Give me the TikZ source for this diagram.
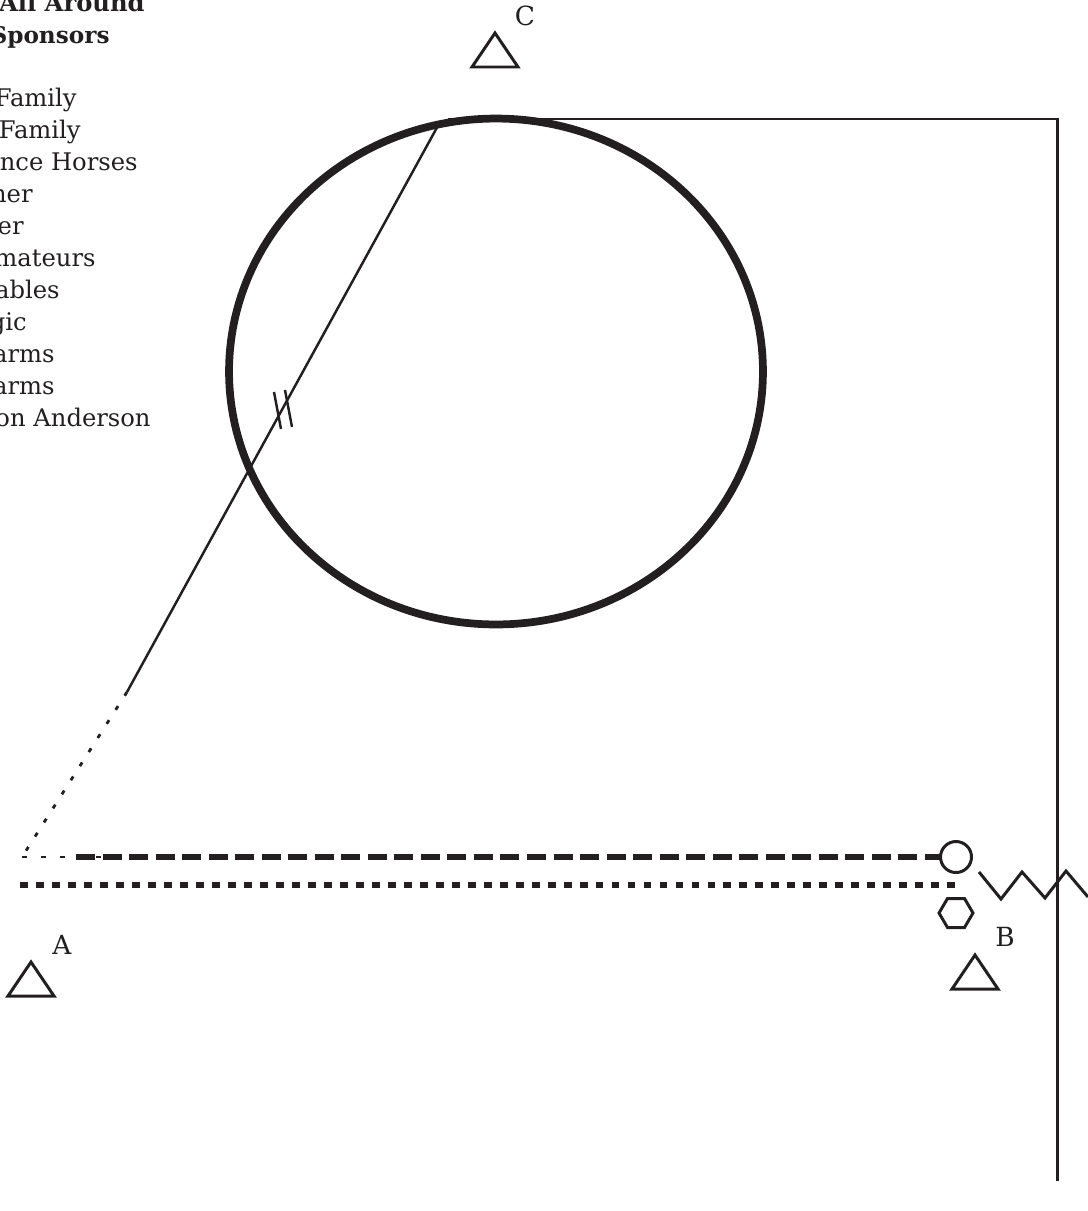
\documentclass[tikz,border=0pt]{standalone}
\usepackage{fontspec}
\setmainfont{DejaVu Serif}
\usepackage{tikz}
\usetikzlibrary{shapes.geometric}
\definecolor{inkc}{HTML}{231F20}
\tikzset{
  headtxt/.style  = {anchor=base east,inner sep=0pt,font=\fontsize{13.8}{15}\selectfont\bfseries,inkc},
  sponsortxt/.style = {anchor=base east,inner sep=0pt,font=\fontsize{13.8}{15}\selectfont,inkc},
  marktxt/.style  = {inner sep=0pt,font=\fontsize{15}{17}\selectfont,inkc},
  markln/.style   = {inkc,line width=1.7pt,line join=miter},
  trackln/.style  = {inkc,line width=1.4pt},
  ringln/.style   = {inkc,line width=4.4pt},
  dashln/.style   = {inkc,line width=3.4pt,dash pattern=on 10.8pt off 4.3pt},
  thindash/.style = {inkc,line width=1.5pt,dash pattern=on 2.8pt off 8pt},
  dotln/.style    = {inkc,line width=3pt,dash pattern=on 4.5pt off 4.6pt},
  slantdot/.style = {inkc,line width=1.6pt,dash pattern=on 2.5pt off 7pt}
}

\begin{document}
\begin{tikzpicture}[x=0.02cm,y=-0.02cm]
  \useasboundingbox (0,0) rectangle (1088,1211);
  \clip (0,0) rectangle (1088,1211);
  % sponsor list, runs off the page edge
  \node[headtxt] (headA) at (145,11) {All Around};
  \node[headtxt,font=\fontsize{13.2}{15}\selectfont\bfseries] (headB) at (110,43) {Sponsors};
  \foreach \ex/\yy/\tx in {77/106/Family,81/138/Family,138/170/nce Horses,33/202/ner,24/234/er,
      96/266/mateurs,60/298/ables,27/330/gic,55/362/arms,55/394/arms,151/426/on Anderson}
    { \node[sponsortxt] (sp\yy) at (\ex,\yy) {\tx}; }
  % ring and outer line
  \node[ringln,draw,ellipse,outer sep=0pt,minimum width=10.68cm,minimum height=10.12cm,inner sep=0pt] (ring) at (496,371.5) {};
  \coordinate (topL) at (448,119);
  \coordinate (topR) at (1057,119);
  \coordinate (botR) at (1057,1181);
  \draw[markln] (topL) -- (topR) -- (botR);
  % slanted line into the corner
  \coordinate (slantT) at (440,122);
  \coordinate (slantB) at (127,692);
  \coordinate (corner) at (22,857);
  \draw[trackln] (slantT) -- (slantB);
  \draw[slantdot] (slantB) -- (corner);
  \draw[trackln] (274,392) -- (281,429);
  \draw[trackln] (285,390) -- (292,427);
  % the two bars
  \node[draw,circle,markln,outer sep=0pt,minimum size=0.62cm,inner sep=0pt] (hub) at (956,857) {};
  \draw[thindash] (corner) -- (70,857);
  \draw[thindash] (96,857) -- (101,857);
  \draw[dashln] (76,857) -- (hub.west);
  \draw[dotln] (20,885) -- (955,885);
  % small marks
  \draw[markln] (939,913) -- (947.5,898.5) -- (964.5,898.5) -- (973,913) -- (964.5,927.5) -- (947.5,927.5) -- cycle;
  \draw[markln] (979,872) -- (1001,899) -- (1022,872) -- (1045,898) -- (1066,871) -- (1088,897);
  \foreach \ax/\ay/\lx/\ly/\nm in {31/962/62/945/A,975/955/1005/937/B,495/33/525/16/C}
    {
      \draw[markln] (\ax,\ay) -- ++(-23,34) -- ++(46,0) -- cycle;
      \node[marktxt] (lab\nm) at (\lx,\ly) {\nm};
    }
\end{tikzpicture}
\end{document}
